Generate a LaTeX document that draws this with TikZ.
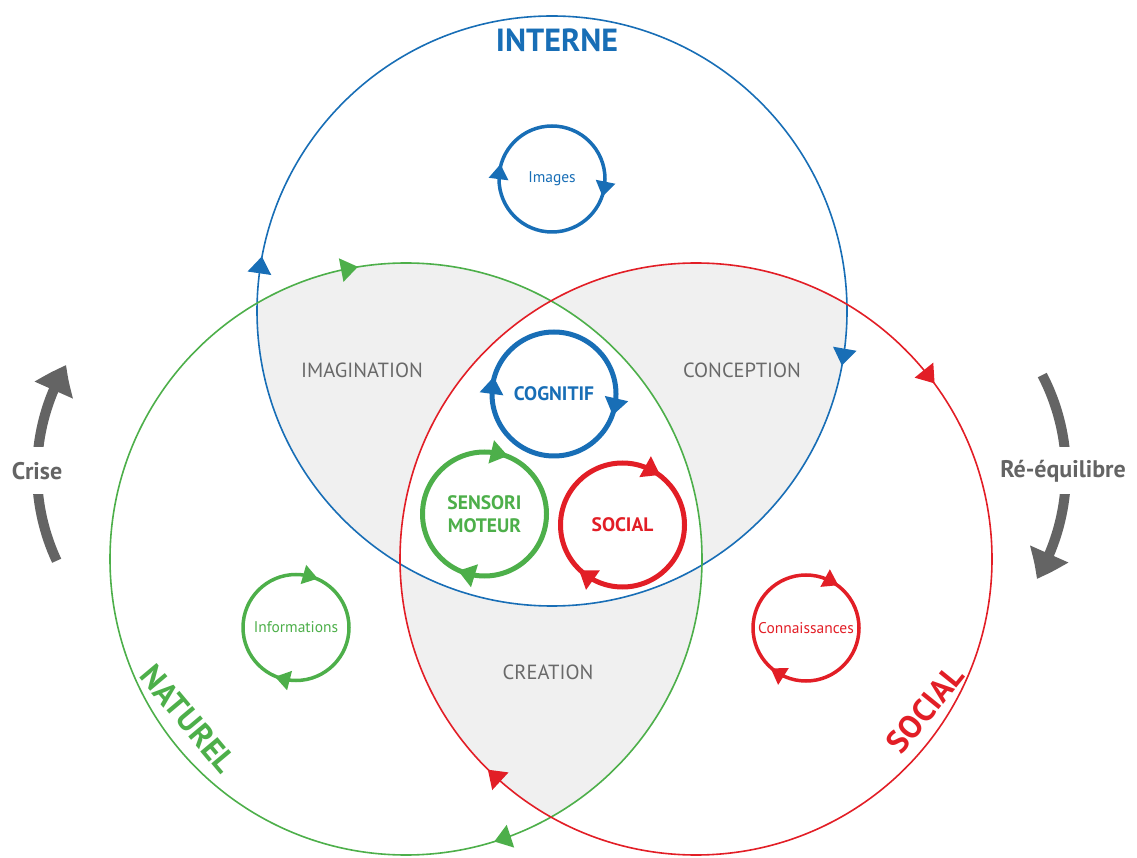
\documentclass[tikz,border=0pt]{standalone}
\usepackage{fontspec}
\setmainfont{PT Sans}
\usetikzlibrary{arrows.meta,bending}
\definecolor{cblue}{RGB}{24,110,182}
\definecolor{cgreen}{RGB}{77,175,74}
\definecolor{cred}{RGB}{226,30,38}
\definecolor{cfill}{RGB}{240,240,240}
\definecolor{ctext}{RGB}{105,105,105}
\definecolor{carrow}{RGB}{100,100,100}
\newcommand\tri[5]{\fill[#3,shift={(#1)},rotate=#2] (0.5*#4,0) -- (-0.5*#4,0.5*#5) -- (-0.5*#4,-0.5*#5) -- cycle;}
\def\rB{295}\def\rG{296}\def\rR{296}
\begin{document}
\begin{tikzpicture}[x=1pt,y=1pt,
  bigring/.style={circle,draw=#1,line width=1.6pt,inner sep=0pt,outer sep=0pt,minimum size=590pt},
  mainring/.style={circle,draw=#1,line width=5pt,inner sep=0pt,outer sep=0pt,minimum size=124pt},
  smallring/.style={circle,draw=#1,line width=3.5pt,inner sep=0pt,outer sep=0pt,minimum size=106pt},
  zone/.style={text=ctext,font=\fontsize{20.5}{24}\selectfont},
  mainlbl/.style={text=#1,font=\bfseries\fontsize{19.5}{23}\selectfont,align=center},
  smalllbl/.style={text=#1,font=\fontsize{15.5}{18}\selectfont},
  biglbl/.style={text=#1,font=\bfseries\fontsize{32}{36}\selectfont},
  sidelbl/.style={text=carrow,font=\bfseries\fontsize{24}{28}\selectfont,fill=white,inner xsep=2pt,minimum height=47pt},
  bigarrow/.style={draw=carrow,line width=10pt,-{Triangle[length=28pt,width=40pt,bend]}}
]
\useasboundingbox (0,0) rectangle (1137,857);
\coordinate (cB) at (552,546);
\coordinate (cG) at (406,298);
\coordinate (cR) at (696,298);
% shaded pairwise intersections
\begin{scope}
  \clip (cB) circle[radius=\rB];
  \fill[cfill] (cG) circle[radius=\rG];
  \fill[cfill] (cR) circle[radius=\rR];
\end{scope}
\begin{scope}
  \clip (cG) circle[radius=\rG];
  \fill[cfill] (cR) circle[radius=\rR];
\end{scope}
\begin{scope}
  \clip (cB) circle[radius=\rB];
  \clip (cG) circle[radius=\rG];
  \fill[white] (cR) circle[radius=\rR];
\end{scope}
% big circles
\node[bigring=cblue,minimum size=590pt] (interne) at (cB) {};
\node[bigring=cgreen,minimum size=592pt] (naturel) at (cG) {};
\node[bigring=cred,minimum size=592pt] (social) at (cR) {};
\tri{interne.171.6}{81.6}{cblue}{17}{24}
\tri{interne.-9.9}{-99.9}{cblue}{17}{24}
\tri{naturel.101.1}{11.1}{cgreen}{17}{24}
\tri{naturel.-71.8}{-161.8}{cgreen}{17}{24}
\tri{social.38.8}{-51.2}{cred}{17}{24}
\tri{social.227.3}{137.3}{cred}{17}{24}
% small rings
\node[smallring=cblue] (rImages) at (552,678) {};
\node[mainring=cblue] (rCog) at (554,463) {};
\node[mainring=cgreen] (rSens) at (484.5,343) {};
\node[mainring=cred] (rSoc) at (622.5,332) {};
\node[smallring=cgreen] (rInfo) at (296,229.5) {};
\node[smallring=cred] (rConn) at (806,229) {};
\tri{rImages.172.6}{82.6}{cblue}{15}{20}
\tri{rImages.-11.5}{-101.5}{cblue}{15}{20}
\tri{rCog.172.5}{82.5}{cblue}{17}{24}
\tri{rCog.-12.7}{-102.7}{cblue}{17}{24}
\tri{rSens.76.6}{-13.4}{cgreen}{17}{24}
\tri{rSens.253}{163}{cgreen}{17}{24}
\tri{rSoc.61}{-29}{cred}{17}{24}
\tri{rSoc.234.6}{144.6}{cred}{17}{24}
\tri{rInfo.74}{-16}{cgreen}{15}{20}
\tri{rInfo.255.6}{165.6}{cgreen}{15}{20}
\tri{rConn.61.6}{-28.4}{cred}{15}{20}
\tri{rConn.237.7}{147.7}{cred}{15}{20}
% labels
\node[mainlbl=cblue] (lCog) at (rCog) {COGNITIF};
\node[mainlbl=cgreen] (lSens) at (rSens) {SENSORI\\MOTEUR};
\node[mainlbl=cred] (lSoc) at (rSoc) {SOCIAL};
\node[smalllbl=cblue] (lImages) at (rImages) {Images};
\node[smalllbl=cgreen] (lInfo) at (rInfo) {Informations};
\node[smalllbl=cred] (lConn) at (rConn) {Connaissances};
\node[zone] (lImag) at (362,487) {IMAGINATION};
\node[zone] (lConc) at (742,487) {CONCEPTION};
\node[zone] (lCrea) at (548,185) {CREATION};
\node[biglbl=cblue] (lInterne) at (557,817) {INTERNE};
\node[biglbl=cgreen,rotate=-50] (lNaturel) at (188,138) {NATUREL};
\node[biglbl=cred,rotate=51] (lSocial) at (925,148) {SOCIAL};
% side arrows
\coordinate (aL) at (247,385);
\coordinate (aR) at (856,385);
\draw[bigarrow] ([shift={(205:210)}]aL) arc[start angle=205,end angle=149.4,radius=210];
\draw[bigarrow] ([shift={(27.5:210)}]aR) arc[start angle=27.5,end angle=-30.6,radius=210];
\node[sidelbl] (lCrise) at (37,386) {Crise};
\node[sidelbl] (lReeq) at (1063,386) {Ré-équilibre};
\end{tikzpicture}
\end{document}
